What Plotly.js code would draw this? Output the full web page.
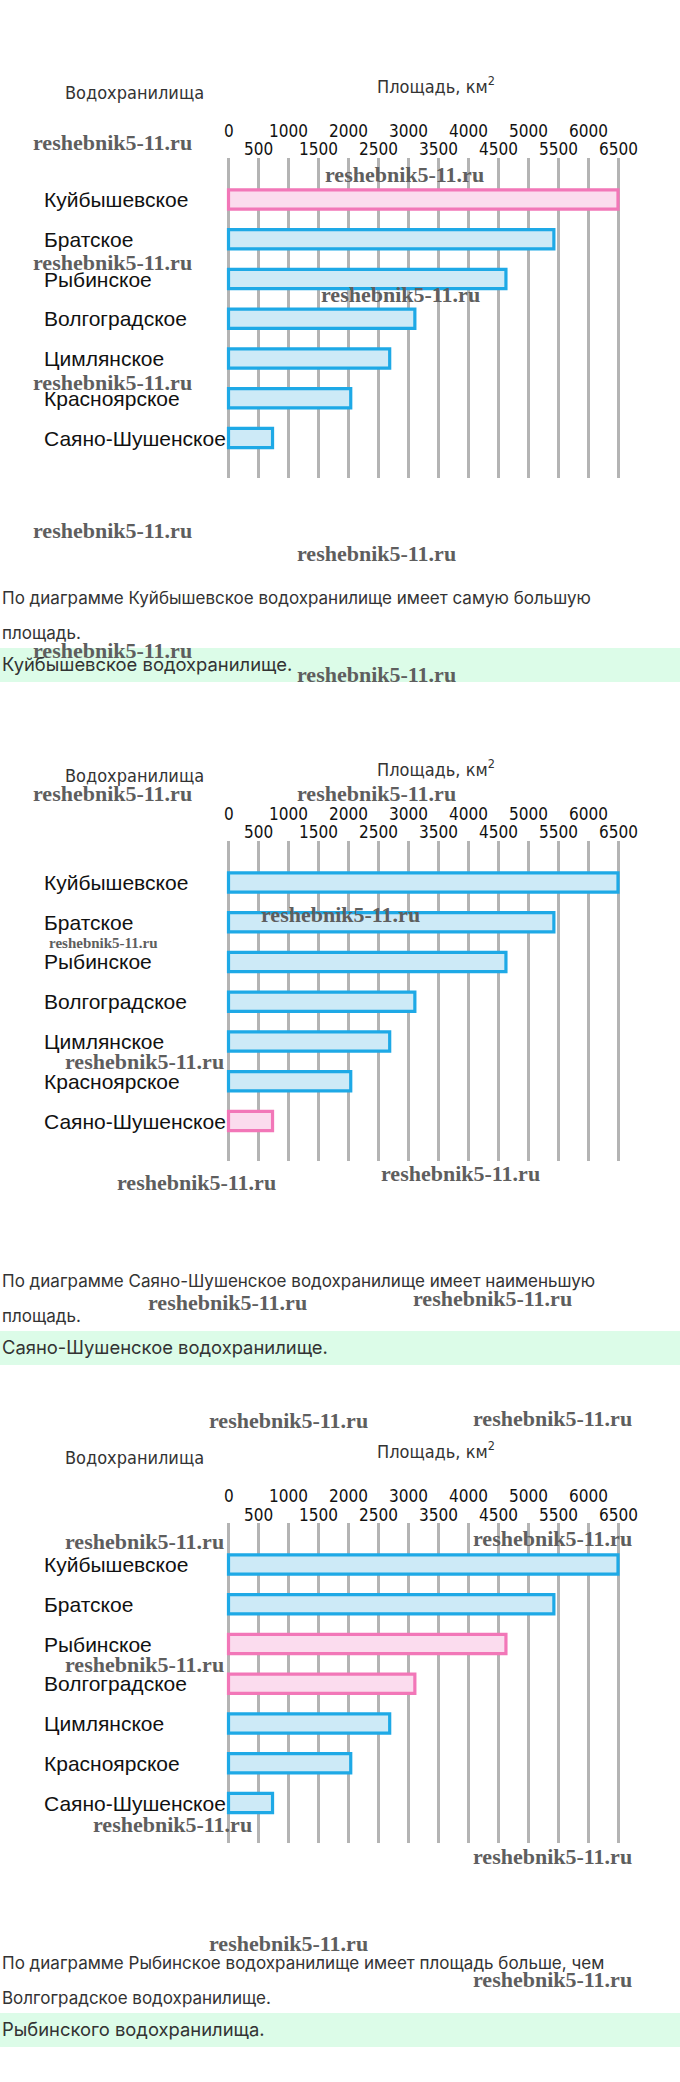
<!DOCTYPE html>
<html>
<head>
<meta charset="utf-8">
<script src="https://cdn.plot.ly/plotly-3.0.1.min.js"></script>
<style>
html,body{margin:0;padding:0;background:#fff;}
#chart{width:680px;height:2082px;}
</style>
</head>
<body>
<div id="chart"></div>
<script>
// ---- data ----
const reservoirs = ["Куйбышевское","Братское","Рыбинское","Волгоградское","Цимлянское","Красноярское","Саяно-Шушенское"];
const areas = [6500, 5430, 4630, 3110, 2690, 2040, 735];
const tickRow1 = [0, 1000, 2000, 3000, 4000, 5000, 6000];
const tickRow2 = [500, 1500, 2500, 3500, 4500, 5500, 6500];
const highlight1 = ["Куйбышевское"];
const highlight2 = ["Саяно-Шушенское"];
const highlight3 = ["Рыбинское", "Волгоградское"];
const yTitle = "Водохранилища";
const xTitle = "Площадь, км<sup>2</sup>";
const question1 = ["По диаграмме Куйбышевское водохранилище имеет самую большую", "площадь."];
const question2 = ["По диаграмме Саяно-Шушенское водохранилище имеет наименьшую", "площадь."];
const question3 = ["По диаграмме Рыбинское водохранилище имеет площадь больше, чем", "Волгоградское водохранилище."];
const answer1 = "Куйбышевское водохранилище.";
const answer2 = "Саяно-Шушенское водохранилище.";
const answer3 = "Рыбинского водохранилища.";
const watermark = "reshebnik5-11.ru";

// ---- layout helpers ----
const W = 680, H = 2082;
const py = p => 1 - p / H;
const px = p => p / W;
const offsets = [0, 683, 1365];
const highlights = [highlight1, highlight2, highlight3];
const questions = [question1, question2, question3];
const answers = [answer1, answer2, answer3];

const BLUE_LINE = '#1ea9e6', BLUE_FILL = '#cdeaf7';
const PINK_LINE = '#f277b8', PINK_FILL = '#fbdcee';
const GRID = '#b4b4b4';

const traces = [];
const layout = {
  width: W, height: H,
  margin: {l: 0, r: 0, t: 0, b: 0},
  paper_bgcolor: '#fff', plot_bgcolor: 'rgba(0,0,0,0)',
  showlegend: false,
  annotations: [], shapes: []
};

// x mapping: 0 -> 228.5px, 6500 -> 618px
const u = 6500 / (618 - 228.5);
const xDomPx = [225, 622];
const xRange = [(xDomPx[0] - 228.5) * u, (xDomPx[1] - 228.5) * u];
const gridVals = tickRow1.concat(tickRow2).sort((a, b) => a - b);

offsets.forEach((off, k) => {
  const sx = k === 0 ? '' : String(k + 1);
  const xa = 'x' + sx, ya = 'y' + sx;
  const hl = highlights[k];
  traces.push({
    type: 'bar', orientation: 'h',
    x: areas, y: reservoirs.map((_, i) => i),
    xaxis: xa, yaxis: ya,
    width: 0.48,
    marker: {
      color: reservoirs.map(r => hl.includes(r) ? PINK_FILL : BLUE_FILL),
      line: {color: reservoirs.map(r => hl.includes(r) ? PINK_LINE : BLUE_LINE), width: 3.2}
    },
    hoverinfo: 'skip'
  });
  const step = 39.75, c0 = 199.5, top = 158, bot = 478;
  layout['xaxis' + sx] = {
    domain: [px(xDomPx[0]), px(xDomPx[1])], range: xRange, anchor: ya,
    tickmode: 'array', tickvals: gridVals, showticklabels: false, ticks: '',
    showgrid: true, gridcolor: GRID, gridwidth: 3,
    zeroline: true, zerolinecolor: GRID, zerolinewidth: 3,
    showline: false, fixedrange: true
  };
  layout['yaxis' + sx] = {
    domain: [py(off + bot), py(off + top)], anchor: xa,
    range: [(bot - c0) / step, (top - c0) / step],
    showgrid: false, zeroline: false, showticklabels: false, ticks: '',
    showline: false, fixedrange: true
  };
  // category labels
  reservoirs.forEach((r, i) => {
    layout.annotations.push({
      xref: 'paper', yref: ya, x: px(42), y: i, xanchor: 'left', yanchor: 'middle',
      text: r, showarrow: false,
      font: {family: 'Liberation Sans, Arial, sans-serif', size: 21, color: '#111'}
    });
  });
  // tick labels (two staggered rows)
  const tickFont = {family: 'DejaVu Sans Condensed, DejaVu Sans, sans-serif', size: 17, color: '#111'};
  tickRow1.forEach(v => layout.annotations.push({
    xref: xa, yref: 'paper', x: v, y: py(off + 130.5), xanchor: 'center', yanchor: 'middle',
    text: String(v), showarrow: false, font: tickFont
  }));
  tickRow2.forEach(v => layout.annotations.push({
    xref: xa, yref: 'paper', x: v, y: py(off + 149.5), xanchor: 'center', yanchor: 'middle',
    text: String(v), showarrow: false, font: tickFont
  }));
  // titles
  const titleFont = {family: 'DejaVu Sans Condensed, DejaVu Sans, sans-serif', size: 18, color: '#333'};
  layout.annotations.push({
    xref: 'paper', yref: 'paper', x: px(134.5), y: py(off + 92), xanchor: 'center', yanchor: 'middle',
    text: yTitle, showarrow: false, font: titleFont
  });
  layout.annotations.push({
    xref: 'paper', yref: 'paper', x: px(375), y: py(off + 85), xanchor: 'left', yanchor: 'middle',
    text: xTitle, showarrow: false, font: titleFont
  });
  // question text
  const qFont = {family: 'Inter, Roboto, sans-serif', size: 17, color: '#333'};
  questions[k].forEach((line, j) => layout.annotations.push({
    xref: 'paper', yref: 'paper', x: 0, y: py(off + 598 + j * 35), xanchor: 'left', yanchor: 'middle',
    text: line, showarrow: false, font: qFont
  }));
  // answer band
  layout.shapes.push({
    type: 'rect', xref: 'paper', yref: 'paper', x0: 0, x1: 1,
    y0: py(off + 682), y1: py(off + 648), fillcolor: '#dcfce8', line: {width: 0}, layer: 'below'
  });
  layout.annotations.push({
    xref: 'paper', yref: 'paper', x: 0, y: py(off + 664), xanchor: 'left', yanchor: 'middle',
    text: answers[k], showarrow: false,
    font: {family: 'Inter, Roboto, sans-serif', size: 18.4, color: '#333'}
  });
});

// watermarks (centre x, centre y in page pixels)
const wmPos = [
  [112.7, 142.7], [404.6, 174], [112.7, 262.7], [400.3, 294], [112.7, 382.7],
  [112.7, 530.7], [376.4, 554], [112.7, 650.7], [376.4, 674],
  [112.7, 793.6], [376.4, 793.6], [340.4, 914], [144.4, 1061.5], [196.4, 1182],
  [460, 1173], [228, 1302], [492, 1298],
  [288.4, 1420.8], [552, 1418], [144.4, 1541], [552, 1538], [144.4, 1664.5],
  [172.2, 1824], [552, 1856], [288.4, 1943], [552, 1979]
];
const wmFont = {family: 'Liberation Serif, Times New Roman, serif', size: 22, color: '#5e5e5e'};
wmPos.forEach(p => layout.annotations.push({
  xref: 'paper', yref: 'paper', x: px(p[0]), y: py(p[1]), xanchor: 'center', yanchor: 'middle',
  text: '<b>' + watermark + '</b>', showarrow: false, font: wmFont
}));
layout.annotations.push({
  xref: 'paper', yref: 'paper', x: px(103.4), y: py(943), xanchor: 'center', yanchor: 'middle',
  text: '<b>' + watermark + '</b>', showarrow: false,
  font: {family: 'Liberation Serif, Times New Roman, serif', size: 15, color: '#5e5e5e'}
});

Plotly.newPlot('chart', traces, layout, {staticPlot: true, displayModeBar: false});
</script>
</body>
</html>
